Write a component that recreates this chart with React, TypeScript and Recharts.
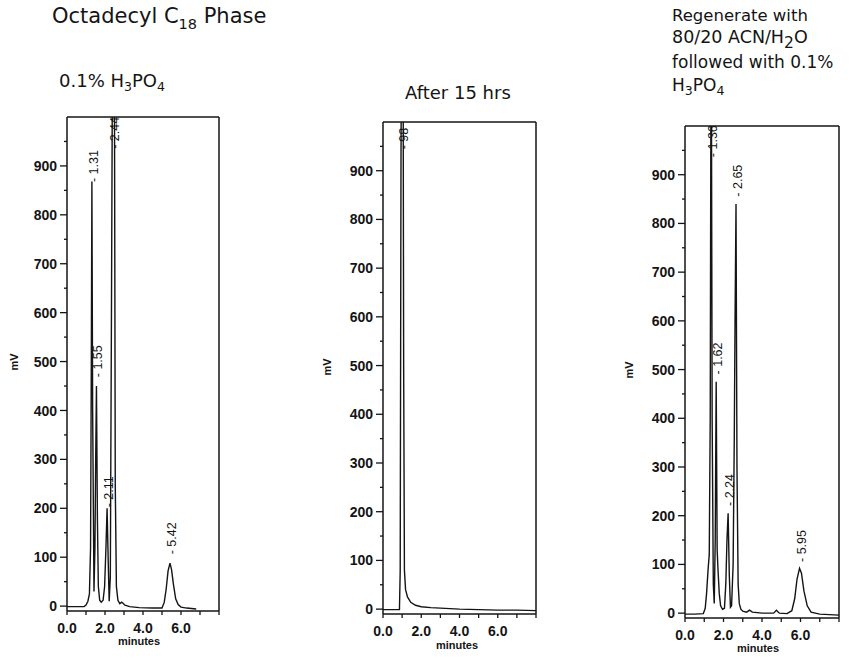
import React from 'react';
import { ComposedChart, Line, Scatter, XAxis, YAxis, ReferenceLine } from 'recharts';

// ---------- data ----------
const yMajorTicks = [0, 100, 200, 300, 400, 500, 600, 700, 800, 900];
const yMinorTicks = [50, 150, 250, 350, 450, 550, 650, 750, 850, 950];
const xTicks = [0, 1, 2, 3, 4, 5, 6, 7, 8];
const xTickLabels = ['0.0', '', '2.0', '', '4.0', '', '6.0', '', ''];
const xMax = 8;
const yMin = -10;
const yMax = 1000;

// Panel 1: 0.1% H3PO4
const p1Time = [0, 0.5, 0.9, 1.0, 1.1, 1.18, 1.24, 1.28, 1.31, 1.35, 1.42, 1.47, 1.51, 1.55, 1.6, 1.65, 1.72, 1.8, 1.9, 1.98, 2.05, 2.11, 2.17, 2.22, 2.28, 2.34, 2.4, 2.44, 2.49, 2.54, 2.6, 2.68, 2.78, 2.88, 2.95, 3.05, 3.3, 3.8, 4.5, 5.0, 5.12, 5.22, 5.32, 5.42, 5.5, 5.6, 5.72, 5.85, 6.0, 6.3, 6.8];
const p1Signal = [-1, -1, -1, 2, 10, 25, 120, 500, 868, 400, 30, 120, 300, 450, 180, 40, 12, 8, 12, 40, 120, 200, 90, 10, 60, 600, 1200, 1300, 1200, 250, 40, 12, 5, 8, 6, 2, -1, -3, -4, -4, 8, 35, 72, 88, 75, 45, 15, 3, -2, -4, -6];
const p1PeakTimes = [1.31, 1.55, 2.11, 2.44, 5.42];
const p1PeakAt = [867, 468, 202, 935, 106];
const p1PeakLabels = ['1.31', '1.55', '2.11', '2.44', '5.42'];

// Panel 2: After 15 hrs
const p2Time = [0, 0.5, 0.86, 0.9, 0.94, 0.98, 1.04, 1.08, 1.12, 1.18, 1.28, 1.45, 1.7, 2.0, 2.5, 3.0, 4.0, 5.0, 6.0, 7.0, 8.0];
const p2Signal = [-1, -1, -1, 80, 900, 1400, 1400, 500, 80, 40, 25, 14, 8, 5, 3, 2, 0, -1, -2, -2, -3];
const p2PeakTimes = [0.98];
const p2PeakAt = [944];
const p2PeakLabels = ['98'];

// Panel 3: Regenerate
const p3Time = [0, 0.5, 0.95, 1.05, 1.12, 1.2, 1.26, 1.31, 1.36, 1.41, 1.47, 1.52, 1.57, 1.62, 1.67, 1.72, 1.78, 1.85, 1.95, 2.05, 2.12, 2.18, 2.24, 2.3, 2.36, 2.42, 2.5, 2.56, 2.6, 2.65, 2.7, 2.76, 2.82, 2.9, 3.0, 3.2, 3.35, 3.5, 4.0, 4.6, 4.75, 4.9, 5.3, 5.55, 5.7, 5.82, 5.95, 6.05, 6.18, 6.35, 6.55, 7.0, 8.0];
const p3Signal = [-2, -2, -1, 10, 40, 90, 120, 400, 1300, 400, 60, 20, 150, 475, 130, 85, 40, 15, 8, 10, 60, 150, 205, 80, 12, 15, 100, 360, 600, 840, 300, 60, 20, 8, 4, 2, 6, 2, 0, 0, 6, 0, -1, 5, 30, 70, 92, 82, 45, 15, 2, -2, -4];
const p3PeakTimes = [1.36, 1.62, 2.24, 2.65, 5.95];
const p3PeakAt = [936, 490, 220, 855, 105];
const p3PeakLabels = ['1.36', '1.62', '2.24', '2.65', '5.95'];

// ---------- styling ----------
const INK = '#141414';
const FONT = '"Liberation Sans", Arial, sans-serif';
const TFONT = '"DejaVu Sans", sans-serif';
const H = 658;
const YAXIS_W = 40;
const XAXIS_H = 30;

const YTick = (props: any) => {
  const { x, y, payload } = props;
  const v = payload.value;
  const major = yMajorTicks.includes(v);
  return (
    <g>
      <line x1={x - (major ? 7 : 3)} x2={x} y1={y} y2={y} stroke={INK} strokeWidth={1.3} />
      {major && (
        <text x={x - 10} y={y} dy="0.36em" textAnchor="end" fontFamily={FONT} fontSize={14} fontWeight="bold" fill={INK}>
          {v}
        </text>
      )}
    </g>
  );
};

const XTick = (props: any) => {
  const { x, y, payload } = props;
  const idx = xTicks.indexOf(payload.value);
  const label = idx >= 0 ? xTickLabels[idx] : '';
  return (
    <g>
      <line x1={x} x2={x} y1={y} y2={y + 4} stroke={INK} strokeWidth={1.3} />
      {label && (
        <text x={x} y={y + 22} textAnchor="middle" fontFamily={FONT} fontSize={14} fontWeight="bold" fill={INK}>
          {label}
        </text>
      )}
    </g>
  );
};

const PeakLabel = (props: any) => {
  const { cx, cy, payload } = props;
  if (cx == null || cy == null) return <g />;
  const bx = cx + 6;
  return (
    <text x={bx} y={cy} transform={`rotate(-90 ${bx} ${cy})`} textAnchor="start" fontFamily={FONT} fontSize={12.5} fill={INK}>
      {'- ' + payload.label}
    </text>
  );
};

type PanelProps = {
  chartLeft: number;
  chartWidth: number;
  plotLeft: number;
  plotRight: number;
  plotTop: number;
  plotBottom: number;
  times: number[];
  signal: number[];
  peakTimes: number[];
  peakAt: number[];
  peakLabels: string[];
};

const Panel = (p: PanelProps) => {
  const data = p.times.map((t, i) => ({ t, v: p.signal[i] }));
  const peaks = p.peakTimes.map((t, i) => ({ t, at: p.peakAt[i], label: p.peakLabels[i] }));
  const margin = {
    top: p.plotTop,
    left: p.plotLeft - p.chartLeft - YAXIS_W,
    right: p.chartLeft + p.chartWidth - p.plotRight,
    bottom: H - p.plotBottom - XAXIS_H,
  };
  const axisLine = { stroke: INK, strokeWidth: 1.5 };
  return (
    <div style={{ position: 'absolute', left: p.chartLeft, top: 0 }}>
      <ComposedChart width={p.chartWidth} height={H} margin={margin}>
        <XAxis
          dataKey="t"
          type="number"
          domain={[0, xMax]}
          allowDataOverflow
          ticks={xTicks}
          interval={0}
          tickSize={0}
          tickMargin={0}
          tickLine={false}
          tick={<XTick />}
          height={XAXIS_H}
          axisLine={axisLine}
        />
        <YAxis
          type="number"
          domain={[yMin, yMax]}
          allowDataOverflow
          ticks={[...yMajorTicks, ...yMinorTicks].sort((a, b) => a - b)}
          interval={0}
          tickSize={0}
          tickMargin={0}
          tickLine={false}
          tick={<YTick />}
          width={YAXIS_W}
          axisLine={axisLine}
        />
        <ReferenceLine y={yMax} stroke={INK} strokeWidth={1.5} ifOverflow="visible" />
        <ReferenceLine x={xMax} stroke={INK} strokeWidth={1.5} ifOverflow="visible" />
        <Line data={data} dataKey="v" type="linear" stroke={INK} strokeWidth={1.4} dot={false} activeDot={false} isAnimationActive={false} />
        <Scatter data={peaks} dataKey="at" shape={(s: any) => <PeakLabel {...s} />} isAnimationActive={false} />
      </ComposedChart>
    </div>
  );
};

export default function App() {
  return (
    <div style={{ position: 'absolute', left: 0, top: 0, width: 851, height: 658, background: '#fff', overflow: 'hidden' }}>
      <Panel chartLeft={0} chartWidth={240} plotLeft={67} plotRight={219} plotTop={117} plotBottom={611}
        times={p1Time} signal={p1Signal} peakTimes={p1PeakTimes} peakAt={p1PeakAt} peakLabels={p1PeakLabels} />
      <Panel chartLeft={300} chartWidth={250} plotLeft={383} plotRight={536} plotTop={122} plotBottom={614}
        times={p2Time} signal={p2Signal} peakTimes={p2PeakTimes} peakAt={p2PeakAt} peakLabels={p2PeakLabels} />
      <Panel chartLeft={600} chartWidth={251} plotLeft={685} plotRight={839} plotTop={126} plotBottom={618}
        times={p3Time} signal={p3Signal} peakTimes={p3PeakTimes} peakAt={p3PeakAt} peakLabels={p3PeakLabels} />
      <svg width={851} height={658} style={{ position: 'absolute', left: 0, top: 0, pointerEvents: 'none' }}>
        <g fill={INK} fontFamily={TFONT}>
          <text x={52} y={23} fontSize={21}>
            Octadecyl C<tspan dy={6} fontSize={14.5}>18</tspan><tspan dy={-6}> Phase</tspan>
          </text>
          <text x={59} y={87} fontSize={18}>
            0.1% H<tspan dy={4} fontSize={12.5}>3</tspan><tspan dy={-4}>PO</tspan><tspan dy={4} fontSize={12.5}>4</tspan>
          </text>
          <text x={405} y={99} fontSize={18}>After 15 hrs</text>
          <text x={672} y={21} fontSize={16.5}>Regenerate with</text>
          <text x={672} y={43} fontSize={17.5}>
            80/20 ACN/H<tspan dy={5} fontSize={15.5}>2</tspan><tspan dy={-5}>O</tspan>
          </text>
          <text x={672} y={68} fontSize={17}>followed with 0.1%</text>
          <text x={672} y={91} fontSize={17}>
            H<tspan dy={4} fontSize={12.5}>3</tspan><tspan dy={-4}>PO</tspan><tspan dy={4} fontSize={12.5}>4</tspan>
          </text>
        </g>
        <g fill={INK} fontFamily={FONT} fontWeight="bold" fontSize={11}>
          <text x={14} y={362} transform="rotate(-90 14 362)" textAnchor="middle" dy="0.35em">mV</text>
          <text x={327} y={367} transform="rotate(-90 327 367)" textAnchor="middle" dy="0.35em">mV</text>
          <text x={629} y={370} transform="rotate(-90 629 370)" textAnchor="middle" dy="0.35em">mV</text>
          <text x={139} y={645} textAnchor="middle">minutes</text>
          <text x={457} y={649} textAnchor="middle">minutes</text>
          <text x={758} y={652} textAnchor="middle">minutes</text>
        </g>
      </svg>
    </div>
  );
}
